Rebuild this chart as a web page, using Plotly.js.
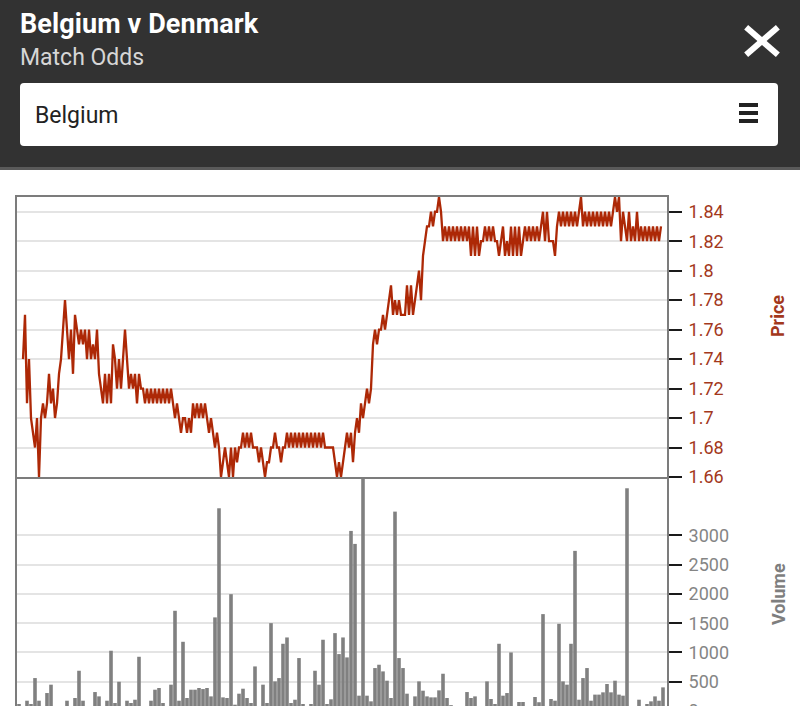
<!DOCTYPE html>
<html>
<head>
<meta charset="utf-8">
<script src="https://cdn.plot.ly/plotly-3.0.1.min.js"></script>
<style>
html,body{margin:0;padding:0;width:800px;height:706px;overflow:hidden;background:#fff;font-family:Roboto,"Noto Sans",sans-serif;}
#hdr{position:absolute;left:0;top:0;width:800px;height:167px;background:#323232;border-bottom:3px solid #5a5a5a;}
#t1{position:absolute;left:20px;top:7px;font-size:27px;font-weight:700;color:#fff;line-height:34px;white-space:nowrap;letter-spacing:0.1px;}
#t2{position:absolute;left:20px;top:43px;font-size:23px;color:#d6d6d6;line-height:30px;white-space:nowrap;}
.xbar{position:absolute;left:741px;top:38px;width:42px;height:6px;background:#fff;}
#box{position:absolute;left:20px;top:83px;width:758px;height:63px;background:#fff;border-radius:4px;}
#sel{position:absolute;left:15px;top:1px;line-height:63px;font-size:23px;color:#222;}
.mbar{position:absolute;left:719px;width:19px;height:4px;background:#222;}
#chart{position:absolute;left:0;top:170px;width:800px;height:560px;}
</style>
</head>
<body>
<div id="hdr">
  <div id="t1">Belgium v Denmark</div>
  <div id="t2">Match Odds</div>
  <div class="xbar" style="transform:rotate(41deg)"></div>
  <div class="xbar" style="transform:rotate(-41deg)"></div>
  <div id="box">
    <div id="sel">Belgium</div>
    <div class="mbar" style="top:20px"></div>
    <div class="mbar" style="top:28px"></div>
    <div class="mbar" style="top:36px"></div>
  </div>
</div>
<div id="chart"></div>
<script>
// Price (odds) over time, one value per time step
const priceValues = [
1.74,1.77,1.71,1.74,1.70,1.69,1.68,1.70,1.66,1.70,
1.71,1.70,1.71,1.73,1.71,1.72,1.70,1.71,1.73,1.74,
1.76,1.78,1.76,1.74,1.76,1.73,1.77,1.76,1.75,1.76,
1.75,1.76,1.74,1.76,1.74,1.75,1.74,1.76,1.73,1.72,
1.71,1.73,1.71,1.73,1.71,1.75,1.74,1.72,1.74,1.72,
1.74,1.76,1.74,1.72,1.73,1.72,1.73,1.71,1.73,1.72,
1.72,1.71,1.72,1.71,1.72,1.71,1.72,1.71,1.72,1.71,
1.72,1.71,1.72,1.71,1.72,1.71,1.70,1.71,1.70,1.69,
1.70,1.70,1.69,1.70,1.69,1.71,1.70,1.71,1.70,1.71,
1.70,1.71,1.70,1.69,1.70,1.69,1.68,1.69,1.68,1.66,
1.67,1.68,1.67,1.66,1.68,1.66,1.68,1.67,1.68,1.68,
1.69,1.68,1.69,1.68,1.69,1.68,1.68,1.68,1.67,1.68,
1.67,1.66,1.67,1.67,1.68,1.68,1.69,1.68,1.68,1.67,
1.68,1.68,1.69,1.68,1.69,1.68,1.69,1.68,1.69,1.68,
1.69,1.68,1.69,1.68,1.69,1.68,1.69,1.68,1.69,1.68,
1.69,1.68,1.68,1.68,1.68,1.68,1.67,1.66,1.67,1.66,
1.67,1.68,1.69,1.68,1.69,1.67,1.69,1.70,1.69,1.71,
1.70,1.71,1.72,1.71,1.72,1.75,1.76,1.75,1.76,1.76,
1.77,1.76,1.77,1.78,1.79,1.77,1.78,1.77,1.78,1.77,
1.77,1.77,1.79,1.77,1.79,1.77,1.78,1.79,1.80,1.78,
1.81,1.82,1.83,1.83,1.84,1.83,1.84,1.84,1.85,1.84,
1.82,1.83,1.82,1.83,1.82,1.83,1.82,1.83,1.82,1.83,
1.82,1.83,1.82,1.83,1.81,1.83,1.81,1.83,1.81,1.82,
1.82,1.83,1.82,1.83,1.82,1.83,1.82,1.82,1.81,1.82,
1.83,1.81,1.82,1.81,1.83,1.81,1.83,1.81,1.83,1.81,
1.82,1.83,1.82,1.83,1.82,1.83,1.82,1.83,1.82,1.83,
1.84,1.82,1.84,1.82,1.82,1.82,1.81,1.83,1.84,1.83,
1.84,1.83,1.84,1.83,1.84,1.83,1.84,1.83,1.84,1.85,
1.83,1.84,1.83,1.84,1.83,1.84,1.83,1.84,1.83,1.84,
1.83,1.84,1.83,1.84,1.83,1.84,1.85,1.84,1.85,1.82,
1.84,1.83,1.82,1.84,1.82,1.83,1.82,1.84,1.82,1.83,
1.82,1.83,1.82,1.83,1.82,1.83,1.82,1.83,1.82,1.83
];

// Traded volume per time bucket
const volumeValues = [
120,60,176,120,563,176,40,307,450,60,
0,0,176,60,222,688,176,20,30,324,
250,60,176,1030,137,500,30,176,137,193,
927,30,20,176,364,393,137,60,450,1713,
176,1183,222,364,364,393,375,393,250,1600,
3465,233,222,1997,108,296,381,222,137,762,
60,450,137,1502,506,563,1149,1257,137,193,
905,120,60,120,688,450,1218,120,200,1331,
973,1257,916,3078,2856,262,3966,262,165,734,
791,677,518,222,3408,905,734,296,80,250,
506,347,250,233,233,353,637,222,100,30,
20,40,324,222,250,60,30,506,205,120,
1149,262,307,1001,30,154,154,20,40,239,
150,1656,80,205,176,1491,506,450,1149,2737,
193,563,734,176,280,280,319,461,319,518,
280,262,3807,60,40,193,60,120,165,250,
176,404
];

const priceTicks = [1.66,1.68,1.70,1.72,1.74,1.76,1.78,1.80,1.82,1.84];
const priceTickLabels = ['1.66','1.68','1.7','1.72','1.74','1.76','1.78','1.8','1.82','1.84'];
const volumeTicks = [0,500,1000,1500,2000,2500,3000];
const volumeTickLabels = ['0','500','1000','1500','2000','2500','3000'];

const priceIndex = priceValues.map((_, i) => i);
const volumeIndex = volumeValues.map((_, i) => i);

const priceColor = '#ad2806';
const priceText = '#a3381c';
const volColor = '#808080';
const frame = '#7c7c7c';
const split = 0.4553;

const traces = [
  {type:'scatter', mode:'lines', x:priceIndex, y:priceValues, xaxis:'x', yaxis:'y',
   line:{color:priceColor, width:2.3}, hoverinfo:'skip'},
  {type:'bar', x:volumeIndex, y:volumeValues, xaxis:'x2', yaxis:'y2',
   marker:{color:volColor, line:{width:0}}, hoverinfo:'skip'}
];

const layout = {
  width:800, height:560,
  margin:{l:17, r:133, t:27, b:19},
  paper_bgcolor:'#fff', plot_bgcolor:'#fff',
  showlegend:false, bargap:0.1,
  font:{family:'Roboto, sans-serif'},
  xaxis:{domain:[0,1], anchor:'y', range:[-3, priceValues.length + 2],
    showgrid:false, showticklabels:false, ticks:'', zeroline:false,
    showline:true, mirror:true, linecolor:frame, linewidth:2},
  yaxis:{domain:[split,1], anchor:'x', side:'right', range:[1.66,1.85],
    tickmode:'array', tickvals:priceTicks, ticktext:priceTickLabels,
    tickfont:{size:18, color:priceText}, ticks:'outside', ticklen:13, tickwidth:2, tickcolor:'#1a1a1a',
    ticklabelstandoff:3,
    gridcolor:'#e4e4e4', gridwidth:2, zeroline:false,
    showline:true, mirror:true, linecolor:frame, linewidth:2},
  xaxis2:{domain:[0,1], anchor:'y2', range:[-0.5, volumeValues.length],
    showgrid:false, showticklabels:false, ticks:'', zeroline:false,
    showline:false},
  yaxis2:{domain:[0,split], anchor:'x2', side:'right', range:[0,4000],
    tickmode:'array', tickvals:volumeTicks, ticktext:volumeTickLabels,
    tickfont:{size:18, color:'#858585'}, ticks:'outside', ticklen:13, tickwidth:2, tickcolor:'#1a1a1a',
    ticklabelstandoff:3,
    gridcolor:'#e4e4e4', gridwidth:2, zeroline:false,
    showline:true, mirror:true, linecolor:frame, linewidth:2},
  annotations:[
    {text:'<b>Price</b>', xref:'paper', yref:'paper', x:1.1708, y:0.7685, textangle:-90,
     showarrow:false, xanchor:'center', yanchor:'middle', font:{size:18, color:priceText}},
    {text:'<b>Volume</b>', xref:'paper', yref:'paper', x:1.1708, y:0.2276, textangle:-90,
     showarrow:false, xanchor:'center', yanchor:'middle', font:{size:18, color:'#7e7e7e'}}
  ]
};

Plotly.newPlot('chart', traces, layout, {displayModeBar:false, staticPlot:true});
</script>
</body>
</html>
